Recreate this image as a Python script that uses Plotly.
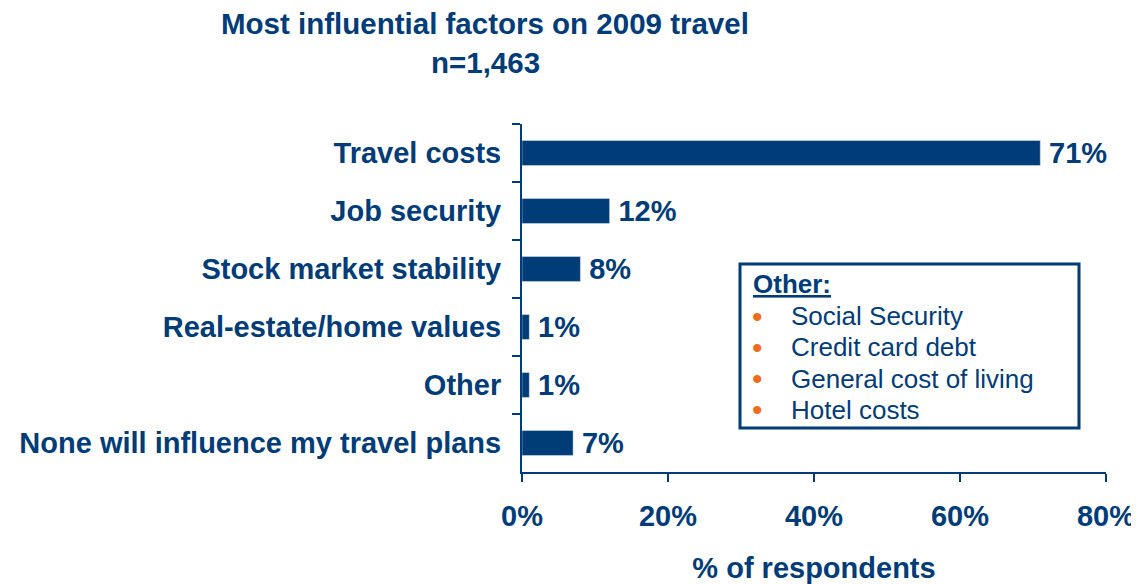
import plotly.graph_objects as go

# Survey results, top to bottom as shown
factors = [
    "Travel costs",
    "Job security",
    "Stock market stability",
    "Real-estate/home values",
    "Other",
    "None will influence my travel plans",
]
shares = [71, 12, 8, 1, 1, 7]
other_items = ["Social Security", "Credit card debt", "General cost of living", "Hotel costs"]
x_ticks = [0, 20, 40, 60, 80]
title_lines = ["Most influential factors on 2009 travel", "n=1,463"]

NAVY = "#003C78"
ORANGE = "#F26B1D"
FONT = "Liberation Sans, Arial, sans-serif"

# the page body adds an 8px offset, so the figure is laid out in page px - 8
OFF = 8
PX0, PX1, PY0, PY1 = 522 - OFF, 1106 - OFF, 124 - OFF, 472 - OFF
PW, PH = PX1 - PX0, PY1 - PY0


def px(x):
    return (x - OFF - PX0) / PW


def py(y):
    return (PY1 - (y - OFF)) / PH


fig = go.Figure(
    go.Bar(
        x=shares,
        y=factors,
        orientation="h",
        width=0.43,
        marker=dict(color=NAVY, line=dict(color="#dfe6ef", width=0.5)),
        text=[f"\u2009{v}%" for v in shares],
        textposition="outside",
        constraintext="none",
        textfont=dict(family=FONT, size=29, color=NAVY, weight="bold"),
        cliponaxis=False,
    )
)

fig.update_layout(
    width=1131,
    height=576,
    margin=dict(l=PX0, r=1131 - PX1, t=PY0, b=576 - PY1, autoexpand=False),
    plot_bgcolor="white",
    paper_bgcolor="white",
    showlegend=False,
    font=dict(family=FONT, size=28, color=NAVY),
)

fig.update_yaxes(
    autorange="reversed",
    automargin=False,
    tickson="boundaries",
    ticks="outside",
    ticklen=8,
    tickwidth=2,
    tickcolor=NAVY,
    showline=True,
    linecolor=NAVY,
    linewidth=2,
    showgrid=False,
    ticklabelstandoff=13,
    tickfont=dict(family=FONT, size=29, color=NAVY, weight="bold"),
)

fig.update_xaxes(
    range=[0, 80],
    automargin=False,
    tickvals=x_ticks,
    ticktext=[f"{v}%" for v in x_ticks],
    ticks="outside",
    ticklen=8,
    tickwidth=2,
    tickcolor=NAVY,
    showline=True,
    linecolor=NAVY,
    linewidth=2,
    showgrid=False,
    zeroline=False,
    ticklabelstandoff=9,
    tickfont=dict(family=FONT, size=29, color=NAVY, weight="bold"),
    title=dict(
        text="<b>% of respondents</b>",
        font=dict(family=FONT, size=29, color=NAVY),
        standoff=30,
    ),
)

# Two-line title
for i, line in enumerate(title_lines):
    fig.add_annotation(
        xref="paper",
        yref="paper",
        x=px(485),
        y=py(23 + i * 39),
        xanchor="center",
        yanchor="middle",
        text=f"<b>{line}</b>",
        showarrow=False,
        font=dict(family=FONT, size=29.5, color=NAVY),
    )

# "Other" breakdown box
fig.add_shape(
    type="rect",
    xref="paper",
    yref="paper",
    x0=px(740),
    x1=px(1079),
    y0=py(428),
    y1=py(264),
    line=dict(color=NAVY, width=3),
    fillcolor="white",
)
fig.add_annotation(
    xref="paper",
    yref="paper",
    x=px(751),
    y=py(284),
    xanchor="left",
    yanchor="middle",
    text="<b><u>Other:</u></b>",
    showarrow=False,
    font=dict(family=FONT, size=26, color=NAVY),
)
for i, item in enumerate(other_items):
    yc = 316 + i * 31.3
    fig.add_annotation(
        xref="paper",
        yref="paper",
        x=px(757),
        y=py(yc),
        xanchor="center",
        yanchor="middle",
        text="•",
        showarrow=False,
        font=dict(family=FONT, size=30, color=ORANGE),
    )
    fig.add_annotation(
        xref="paper",
        yref="paper",
        x=px(789),
        y=py(yc),
        xanchor="left",
        yanchor="middle",
        text=item,
        showarrow=False,
        font=dict(family=FONT, size=26, color=NAVY),
    )

fig.write_html("out.html")
